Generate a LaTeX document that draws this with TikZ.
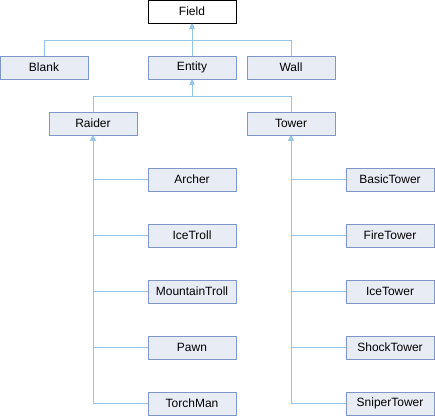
\documentclass[tikz,border=0pt]{standalone}
\usepackage{fontspec}
\setmainfont{Liberation Sans}
\usepackage{tikz}
\usetikzlibrary{arrows.meta,positioning}
\definecolor{clsfill}{HTML}{E8ECF5}
\definecolor{clsline}{HTML}{7E96C9}
\definecolor{inhline}{HTML}{94C6EA}

\begin{document}
\begin{tikzpicture}[x=1pt, y=1pt,
    cls/.style={draw=clsline, fill=clsfill, line width=1pt, minimum width=88pt,
      minimum height=23pt, inner sep=0pt, font=\fontsize{12}{13}\selectfont},
    root/.style={cls, draw=black, fill=white},
    inh/.style={inhline, line width=1pt, -{Triangle[length=5pt,width=5pt]}}]
  \useasboundingbox (0,0) rectangle (435,-416);
  % top levels
  \node[root] (Field)  at (192,-11.5) {Field};
  \node[cls]  (Blank)  at (44,-67.5)  {Blank};
  \node[cls]  (Entity) at (192,-67.5) {Entity};
  \node[cls]  (Wall)   at (291,-67.5) {Wall};
  \node[cls]  (Raider) at (93,-123.5) {Raider};
  \node[cls]  (Tower)  at (291,-123.5) {Tower};
  \coordinate (fieldbar)  at (192,-40);
  \coordinate (entitybar) at (192,-96);
  \draw[inh] (Blank.north) |- (fieldbar) -- (Field.south);
  \draw[inh] (Wall.north) |- (fieldbar) -- (Field.south);
  \draw[inh] (Entity.north) -- (Field.south);
  \draw[inh] (Raider.north) |- (entitybar) -- (Entity.south);
  \draw[inh] (Tower.north) |- (entitybar) -- (Entity.south);
  % raiders
  \foreach \name [count=\i] in {Archer,IceTroll,MountainTroll,Pawn,TorchMan} {
    \node[cls] (\name) at (192,-123.5-56*\i) {\name};
    \draw[inh] (\name.west) -| (Raider.south);
  }
  % towers
  \foreach \name [count=\i] in {BasicTower,FireTower,IceTower,ShockTower,SniperTower} {
    \node[cls] (\name) at (390,-123.5-56*\i) {\name};
    \draw[inh] (\name.west) -| (Tower.south);
  }
\end{tikzpicture}
\end{document}
